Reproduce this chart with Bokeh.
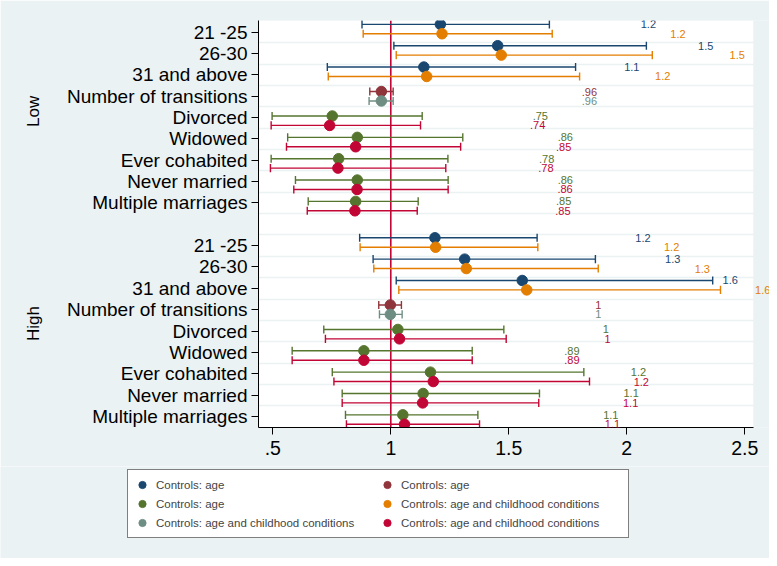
from bokeh.plotting import figure
from bokeh.models import (ColumnDataSource, FixedTicker, Range1d, Span, BoxAnnotation,
                          LabelSet, Legend, LegendItem, LinearAxis)
from bokeh.core.properties import value
from bokeh.embed import file_html
from bokeh.resources import INLINE

# ---------------- data ----------------
groups = ["Low", "High"]
age_rows = ["21 -25", "26-30", "31 and above"]
trans_rows = ["Number of transitions"]
status_rows = ["Divorced", "Widowed", "Ever cohabited", "Never married", "Multiple marriages"]

# values: Low rows first, then High rows
age1_est = [1.210, 1.453, 1.140, 1.187, 1.313, 1.557]
age1_lo = [0.878, 1.013, 0.731, 0.868, 0.925, 1.023]
age1_hi = [1.672, 2.083, 1.783, 1.620, 1.867, 2.364]
age1_lab = ["1.2", "1.5", "1.1", "1.2", "1.3", "1.6"]

age2_est = [1.217, 1.468, 1.152, 1.190, 1.320, 1.576]
age2_lo = [0.883, 1.023, 0.735, 0.870, 0.928, 1.034]
age2_hi = [1.684, 2.108, 1.800, 1.623, 1.879, 2.397]
age2_lab = ["1.2", "1.5", "1.2", "1.2", "1.3", "1.6"]

trans1_est = [0.960, 0.998]
trans1_lo = [0.911, 0.949]
trans1_hi = [1.010, 1.045]
trans1_lab = [".96", "1"]

trans2_est = [0.960, 0.998]
trans2_lo = [0.908, 0.952]
trans2_hi = [1.010, 1.048]
trans2_lab = [".96", "1"]

status1_est = [0.752, 0.858, 0.779, 0.858, 0.851, 1.030, 0.886, 1.168, 1.137, 1.051]
status1_lo = [0.497, 0.563, 0.493, 0.596, 0.650, 0.716, 0.582, 0.752, 0.794, 0.808]
status1_hi = [1.133, 1.305, 1.242, 1.243, 1.116, 1.479, 1.345, 1.818, 1.630, 1.369]
status1_lab = [".75", ".86", ".78", ".86", ".85", "1", ".89", "1.2", "1.1", "1.1"]

status2_est = [0.741, 0.851, 0.776, 0.857, 0.848, 1.037, 0.886, 1.180, 1.135, 1.058]
status2_lo = [0.493, 0.558, 0.490, 0.589, 0.646, 0.723, 0.582, 0.759, 0.794, 0.812]
status2_hi = [1.126, 1.296, 1.233, 1.243, 1.112, 1.489, 1.345, 1.842, 1.627, 1.376]
status2_lab = [".74", ".85", ".78", ".86", ".85", "1", ".89", "1.2", "1.1", "1.1"]

x_ticks = [0.5, 1, 1.5, 2, 2.5]
x_tick_labels = [".5", "1", "1.5", "2", "2.5"]
legend_age = "Controls: age"
legend_full = "Controls: age and childhood conditions"

# ---------------- layout helpers ----------------
FONT = "Liberation Sans"
BG = "#eaf2f3"
W = 769
rows = age_rows + trans_rows + status_rows
stride = len(rows) + 1
n_g = len(groups)

def positions(first, count):
    return [g * stride + first + i for g in range(n_g) for i in range(count)]

age_pos = positions(0, len(age_rows))
trans_pos = positions(len(age_rows), len(trans_rows))
status_pos = positions(len(age_rows) + len(trans_rows), len(status_rows))

tick_pos = [g * stride + i for g in range(n_g) for i in range(len(rows))]
tick_lab = {g * stride + i: rows[i] for g in range(n_g) for i in range(len(rows))}
group_pos = [3.71, 13.65]
y_top = -0.548
y_bot = tick_pos[-1] + 0.52
x_lo, x_plot_hi, x_hi = 0.4394, 2.536, 2.6047

p = figure(width=W, height=466, output_backend="svg", toolbar_location=None,
           x_range=Range1d(x_lo, x_hi), y_range=Range1d(y_bot, y_top),
           min_border_left=258, min_border_right=0, min_border_top=20,
           min_border_bottom=39)
p.title.text = ""
p.background_fill_color = BG
p.border_fill_color = BG
p.outline_line_color = None

# white plot region
p.add_layout(BoxAnnotation(left=x_lo, right=x_plot_hi, fill_color="white", fill_alpha=1,
                           line_color=None, level="image"))

p.xgrid.visible = False
p.ygrid.ticker = FixedTicker(ticks=[i + 0.5 for i in range(int(tick_pos[-1]))])
p.ygrid.grid_line_color = BG
p.ygrid.grid_line_width = 1.6

p.yaxis.ticker = FixedTicker(ticks=tick_pos)
p.yaxis.major_label_overrides = tick_lab
p.xaxis.ticker = FixedTicker(ticks=x_ticks)
p.xaxis.major_label_overrides = dict(zip(x_ticks, x_tick_labels))
p.xaxis.bounds = (x_lo, x_plot_hi)
for ax, fs in ((p.yaxis, "19px"), (p.xaxis, "19.5px")):
    ax.major_label_text_font = FONT
    ax.major_label_text_font_size = fs
    ax.major_label_text_color = "black"
    ax.axis_line_color = "black"
    ax.major_tick_line_color = "black"
    ax.major_tick_out = 7
    ax.major_tick_in = 0
    ax.minor_tick_line_color = None
p.yaxis.major_label_standoff = 4
p.xaxis.major_label_standoff = 6

# group labels (Low / High) as an outer axis
gaxis = LinearAxis(ticker=FixedTicker(ticks=group_pos),
                   major_label_overrides=dict(zip(group_pos, groups)),
                   major_label_orientation="vertical", axis_line_color=None,
                   major_tick_line_color=None, minor_tick_line_color=None,
                   major_label_text_font=FONT, major_label_text_font_size="17px",
                   major_label_text_color="black", major_label_standoff=14)
p.add_layout(gaxis, "left")

p.add_layout(Span(location=1, dimension="height", line_color="#c10534",
                  line_width=1.6, level="underlay"))

series = [
    ("age1", "#1a476f", age1_est, age1_lo, age1_hi, age1_lab, age_pos, 0, 208, legend_age),
    ("trans1", "#90353b", trans1_est, trans1_lo, trans1_hi, trans1_lab, trans_pos, 1, 208, legend_age),
    ("status1", "#55752f", status1_est, status1_lo, status1_hi, status1_lab, status_pos, 2, 208, legend_age),
    ("age2", "#e37e00", age2_est, age2_lo, age2_hi, age2_lab, age_pos, 3, 236, legend_full),
    ("trans2", "#6e8e84", trans2_est, trans2_lo, trans2_hi, trans2_lab, trans_pos, 4, 208, legend_full),
    ("status2", "#c10534", status2_est, status2_lo, status2_hi, status2_lab, status_pos, 5, 208, legend_full),
]
step = 0.147
cap = 0.19
for name, col, est, lo, hi, lab, pos, slot, dx, leg in series:
    off = (slot - 2.5) * step
    ys = [y + off for y in pos]
    src = ColumnDataSource(dict(est=est, lo=lo, hi=hi, y=ys, lab=lab,
                                y0=[y - cap for y in ys], y1=[y + cap for y in ys]))
    p.segment(x0="lo", x1="hi", y0="y", y1="y", source=src, line_color=col, line_width=1.4)
    p.segment(x0="lo", x1="lo", y0="y0", y1="y1", source=src, line_color=col, line_width=1.4)
    p.segment(x0="hi", x1="hi", y0="y0", y1="y1", source=src, line_color=col, line_width=1.4)
    p.scatter(x="est", y="y", source=src, size=10.5, fill_color=col, line_color=col)
    p.add_layout(LabelSet(x="est", y="y", text="lab", source=src, x_offset=dx,
                          text_align="center", text_baseline="middle",
                          text_font=value(FONT), text_font_size="11px", text_color=col))

# ---------------- legend panel (separate root, not frame-aligned) ----------------
LH = 92
lf = figure(width=W, height=LH, output_backend="svg", toolbar_location=None,
            x_range=Range1d(0, 1), y_range=Range1d(0, 1),
            x_axis_type=None, y_axis_type=None, min_border=0)
lf.title.text = ""
lf.background_fill_color = BG
lf.border_fill_color = BG
lf.outline_line_color = None
items = {}
for name, col, est, lo, hi, lab, pos, slot, dx, leg in series:
    r = lf.scatter(x=[-5], y=[-5], size=11, fill_color=col, line_color=col)
    items[name] = LegendItem(label=leg, renderers=[r])

legend = Legend(items=[items[k] for k in ["age1", "trans1", "status1", "age2", "trans2", "status2"]],
                orientation="horizontal", ncols=2, location=(127, 20),
                margin=0, padding=5, spacing=0, glyph_width=18, glyph_height=19,
                label_height=19, label_width=222, label_standoff=5,
                label_text_font=FONT, label_text_font_size="11.5px",
                border_line_color="black", border_line_width=1,
                background_fill_color="white", background_fill_alpha=1)
lf.add_layout(legend)

open("out.html", "w").write(file_html([p, lf], INLINE))
